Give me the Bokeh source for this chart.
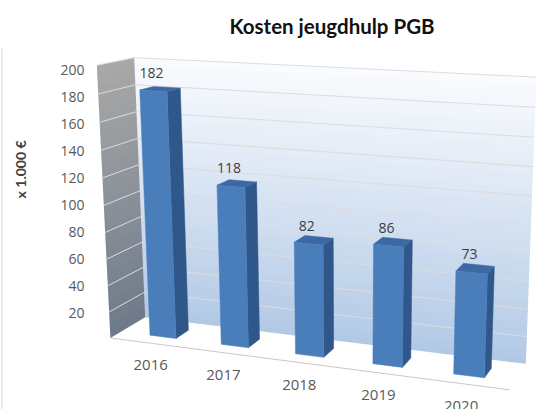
import numpy as np
from bokeh.plotting import figure
from bokeh.layouts import row
from bokeh.models import Range1d, FixedTicker
from bokeh.embed import file_html
from bokeh.resources import INLINE
from bokeh.core.properties import value

# ---------------- data ----------------
years = ["2016", "2017", "2018", "2019", "2020"]
costs = [182, 118, 82, 86, 73]
y_ticks = [20, 40, 60, 80, 100, 120, 140, 160, 180, 200]
y_max = 200
title_text = "Kosten jeugdhulp PGB"
y_title = "x 1.000 \u20ac"

# ---------------- layout / projection constants ----------------
W, H = 542, 409
TW = 40                            # width of the strip holding the axis title
FRAME_L, FRAME_T = 88, 45          # page-pixel position of the plot frame
AX_ZERO, AX_PX = 339.0, 1.361      # screen y of value 0, px per value unit
Y_TITLE_X, Y_TITLE_Y = 20, 137     # centre of the axis title
BORDER_X = 1.5                     # chart-area border line on the far left
SCR_L, SCR_R = FRAME_L, W
SCR_T, SCR_B = FRAME_T, H

# floor margins (category units) left/right of the category slots
GAP_L, GAP_R = 0.1, 0.04
n_cat = len(years)
FLOOR_W = n_cat + GAP_L + GAP_R

# camera calibration: world (floor units, value, depth 0..1) <-> screen px
calib_world = [(0, 0, 0), (FLOOR_W, 0, 0), (FLOOR_W, 0, 1),
               (0, y_max, 0), (0, y_max, 1), (FLOOR_W, y_max, 1)]
calib_screen = [(110, 337), (508, 390), (526, 362),
                (97, 61), (133, 55), (536, 74)]


def fit_camera(world, screen):
    rows = []
    for (X, Y, Z), (u, v) in zip(world, screen):
        Yn = Y / 40.0
        un, vn = (u - 300) / 200.0, (v - 200) / 200.0
        rows.append([X, Yn, Z, 1, 0, 0, 0, 0, -un * X, -un * Yn, -un * Z, -un])
        rows.append([0, 0, 0, 0, X, Yn, Z, 1, -vn * X, -vn * Yn, -vn * Z, -vn])
    _, _, vt = np.linalg.svd(np.array(rows, float))
    return vt[-1].reshape(3, 4)


CAM = fit_camera(calib_world, calib_screen)


def proj(X, Y, Z):
    X = np.atleast_1d(np.asarray(X, float))
    Y = np.atleast_1d(np.asarray(Y, float))
    Z = np.atleast_1d(np.asarray(Z, float))
    X, Y, Z = np.broadcast_arrays(X, Y, Z)
    h = CAM @ np.stack([X, Y / 40.0, Z, np.ones_like(X)])
    u = h[0] / h[2] * 200 + 300
    v = h[1] / h[2] * 200 + 200
    return u, (AX_ZERO - v) / AX_PX


def face(pts):
    X, Y, Z = zip(*pts)
    u, v = proj(X, Y, Z)
    return list(u), list(v)


def mix(c0, c1, t):
    return "#%02x%02x%02x" % tuple(int(round(a + (b - a) * t)) for a, b in zip(c0, c1))


# ---------------- axis-title strip ----------------
tf = figure(width=TW, height=H, output_backend="svg", toolbar_location=None,
            x_range=Range1d(0, TW), y_range=Range1d(H, 0),
            x_axis_location=None, y_axis_location=None, min_border=0)
tf.grid.visible = False
tf.outline_line_color = None
tf.segment(x0=[BORDER_X], y0=[0], x1=[BORDER_X], y1=[H], line_color="#d9d9d9", line_width=1)
tf.text([Y_TITLE_X], [Y_TITLE_Y], text=[y_title], angle=np.pi / 2,
        text_font=value("Lato"), text_font_style="bold", text_font_size="14px",
        text_color="#404040", text_align="center", text_baseline="middle")

# ---------------- main figure ----------------
p = figure(width=W - TW, height=H, output_backend="svg", toolbar_location=None,
           x_range=Range1d(SCR_L, SCR_R),
           y_range=Range1d((AX_ZERO - SCR_B) / AX_PX, (AX_ZERO - SCR_T) / AX_PX),
           x_axis_location=None, min_border_left=FRAME_L - TW, min_border_right=0,
           min_border_top=FRAME_T, min_border_bottom=0, title=title_text)
p.grid.visible = False
p.outline_line_color = None
p.background_fill_color = "white"
p.border_fill_color = "white"

p.title.align = "left"
p.title.offset = 141
p.title.standoff = 22
p.title.text_font = "Lato"
p.title.text_font_style = "bold"
p.title.text_font_size = "20.5px"
p.title.text_color = "#111111"

ax = p.yaxis[0]
ax.ticker = FixedTicker(ticks=y_ticks)
ax.axis_line_color = None
ax.major_tick_line_color = None
ax.minor_tick_line_color = None
ax.major_tick_out = 0
ax.major_tick_in = 0
ax.major_label_standoff = 4
ax.major_label_text_font = "Open Sans"
ax.major_label_text_font_size = "14px"
ax.major_label_text_color = "#595959"

# ---------------- walls (gradient bands) ----------------
N = 40
bw_xs, bw_ys, bw_c = [], [], []
lw_xs, lw_ys, lw_c = [], [], []
for j in range(N):
    ya = y_max * j / N
    yb = min(y_max, y_max * (j + 1) / N + 0.6)
    t = j / (N - 1)
    xs, ys = face([(0, ya, 1), (FLOOR_W, ya, 1), (FLOOR_W, yb, 1), (0, yb, 1)])
    bw_xs.append(xs); bw_ys.append(ys); bw_c.append(mix((178, 201, 230), (249, 251, 254), t))
    xs, ys = face([(0, ya, 0), (0, ya, 1), (0, yb, 1), (0, yb, 0)])
    lw_xs.append(xs); lw_ys.append(ys); lw_c.append(mix((110, 122, 138), (168, 168, 168), t))
p.patches(bw_xs, bw_ys, fill_color=bw_c, line_color=None)
p.patches(lw_xs, lw_ys, fill_color=lw_c, line_color=None)

# gridlines
gx, gy = [], []
for t in y_ticks:
    xs, ys = face([(0, t, 0), (0, t, 1), (FLOOR_W, t, 1)])
    gx.append(xs); gy.append(ys)
p.multi_line(gx, gy, line_color="#dcdcdc", line_width=1)

# floor front edge (category axis line)
fx, fy = face([(0, 0, 0), (FLOOR_W, 0, 0)])
p.line(fx, fy, line_color="#c8c8c8", line_width=1)

# ---------------- bars ----------------
hw, z0, z1 = 0.185, 0.3, 0.68
centers = [GAP_L + i + 0.5 for i in range(n_cat)]
fr_x, fr_y, sd_x, sd_y, tp_x, tp_y = [], [], [], [], [], []
for c, val in zip(centers, costs):
    a, b = c - hw, c + hw
    xs, ys = face([(a, 0, z0), (b, 0, z0), (b, val, z0), (a, val, z0)])
    fr_x.append(xs); fr_y.append(ys)
    xs, ys = face([(b, 0, z0), (b, 0, z1), (b, val, z1), (b, val, z0)])
    sd_x.append(xs); sd_y.append(ys)
    xs, ys = face([(a, val, z0), (b, val, z0), (b, val, z1), (a, val, z1)])
    tp_x.append(xs); tp_y.append(ys)
p.patches(sd_x, sd_y, fill_color="#30578a", line_color="#30578a", line_width=0.5)
p.patches(tp_x, tp_y, fill_color="#3c69a3", line_color="#3c69a3", line_width=0.5)
p.patches(fr_x, fr_y, fill_color="#4a7ebb", line_color="#4a7ebb", line_width=0.5)

# data labels
lx, ly = proj(centers, costs, z0)
p.text(list(lx), list(ly), text=[str(c) for c in costs], text_font=value("Open Sans"),
       text_font_size="14px", text_color="#404040", text_align="center",
       text_baseline="middle", x_offset=-2, y_offset=-18)

# category labels
cx, cy = proj(centers, 0, 0)
p.text(list(cx), list(cy), text=years, text_font=value("Open Sans"),
       text_font_size="15px", text_color="#595959", text_align="center",
       text_baseline="middle", x_offset=-2, y_offset=22)

open("out.html", "w").write(file_html(row(tf, p), INLINE))
